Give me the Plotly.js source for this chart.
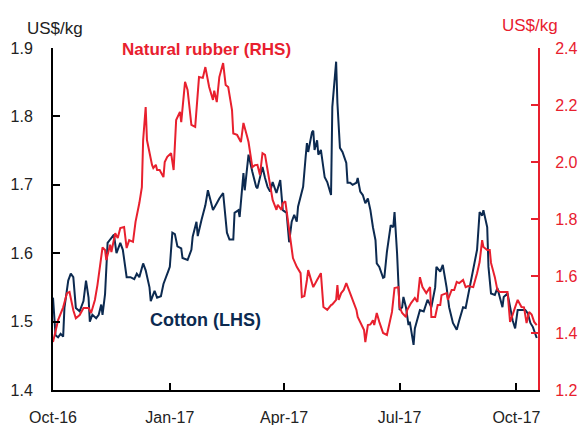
<!DOCTYPE html>
<html>
<head>
<meta charset="utf-8">
<script src="https://cdn.plot.ly/plotly-3.0.1.min.js"></script>
<style>html,body{margin:0;padding:0;background:#fff;}#chart{width:579px;height:425px;}</style>
</head>
<body>
<div id="chart"></div>
<script>
var tickDates = ['2016-10-01','2017-01-01','2017-04-01','2017-07-01','2017-10-01'];
var tickLabels = ['Oct-16','Jan-17','Apr-17','Jul-17','Oct-17'];

var cottonDates = ['2016-10-01','2016-10-03','2016-10-05','2016-10-07','2016-10-09','2016-10-10','2016-10-13','2016-10-15','2016-10-17','2016-10-19','2016-10-22','2016-10-25','2016-10-27','2016-10-29','2016-10-30','2016-11-01','2016-11-04','2016-11-06','2016-11-08','2016-11-09','2016-11-11','2016-11-13','2016-11-15','2016-11-18','2016-11-20','2016-11-23','2016-11-25','2016-11-28','2016-12-01','2016-12-04','2016-12-06','2016-12-08','2016-12-11','2016-12-13','2016-12-16','2016-12-17','2016-12-20','2016-12-22','2016-12-25','2016-12-27','2016-12-31','2017-01-01','2017-01-03','2017-01-05','2017-01-07','2017-01-10','2017-01-11','2017-01-15','2017-01-18','2017-01-19','2017-01-22','2017-01-23','2017-01-26','2017-01-29','2017-01-31','2017-02-04','2017-02-07','2017-02-09','2017-02-12','2017-02-15','2017-02-17','2017-02-20','2017-02-21','2017-02-24','2017-02-25','2017-02-28','2017-03-01','2017-03-04','2017-03-07','2017-03-10','2017-03-11','2017-03-15','2017-03-17','2017-03-19','2017-03-21','2017-03-23','2017-03-26','2017-03-29','2017-03-31','2017-04-03','2017-04-05','2017-04-07','2017-04-09','2017-04-11','2017-04-12','2017-04-15','2017-04-16','2017-04-18','2017-04-19','2017-04-20','2017-04-23','2017-04-24','2017-04-25','2017-04-27','2017-04-28','2017-04-30','2017-05-01','2017-05-03','2017-05-05','2017-05-08','2017-05-09','2017-05-12','2017-05-13','2017-05-15','2017-05-17','2017-05-20','2017-05-21','2017-05-23','2017-05-25','2017-05-28','2017-05-29','2017-05-31','2017-06-02','2017-06-04','2017-06-06','2017-06-08','2017-06-10','2017-06-12','2017-06-13','2017-06-15','2017-06-18','2017-06-19','2017-06-21','2017-06-23','2017-06-24','2017-06-26','2017-06-27','2017-06-29','2017-06-30','2017-07-01','2017-07-03','2017-07-04','2017-07-06','2017-07-08','2017-07-09','2017-07-12','2017-07-13','2017-07-15','2017-07-17','2017-07-20','2017-07-23','2017-07-25','2017-07-26','2017-07-29','2017-07-30','2017-08-02','2017-08-04','2017-08-07','2017-08-09','2017-08-12','2017-08-15','2017-08-17','2017-08-20','2017-08-22','2017-08-25','2017-08-28','2017-08-31','2017-09-02','2017-09-04','2017-09-05','2017-09-08','2017-09-09','2017-09-11','2017-09-14','2017-09-16','2017-09-20','2017-09-21','2017-09-24','2017-09-26','2017-09-28','2017-09-30','2017-10-02','2017-10-05','2017-10-08','2017-10-10','2017-10-12','2017-10-14','2017-10-17'];
var cottonValues = [1.535,1.48,1.477,1.482,1.478,1.52,1.56,1.57,1.565,1.52,1.515,1.53,1.56,1.535,1.50,1.51,1.505,1.51,1.525,1.51,1.54,1.615,1.62,1.627,1.60,1.615,1.605,1.565,1.565,1.562,1.57,1.565,1.585,1.575,1.55,1.53,1.545,1.535,1.537,1.555,1.575,1.58,1.63,1.628,1.61,1.607,1.593,1.59,1.605,1.624,1.646,1.625,1.649,1.67,1.692,1.663,1.673,1.68,1.688,1.63,1.62,1.62,1.659,1.663,1.653,1.717,1.692,1.744,1.719,1.697,1.695,1.726,1.71,1.697,1.69,1.704,1.688,1.707,1.663,1.659,1.616,1.646,1.656,1.646,1.668,1.69,1.697,1.741,1.761,1.748,1.777,1.779,1.751,1.765,1.744,1.751,1.736,1.711,1.704,1.685,1.814,1.88,1.82,1.754,1.748,1.732,1.703,1.703,1.70,1.703,1.71,1.69,1.685,1.673,1.68,1.663,1.638,1.619,1.585,1.58,1.564,1.565,1.602,1.624,1.641,1.638,1.66,1.60,1.55,1.517,1.521,1.536,1.521,1.495,1.50,1.466,1.49,1.505,1.517,1.515,1.532,1.525,1.521,1.55,1.58,1.573,1.583,1.55,1.521,1.498,1.488,1.502,1.521,1.52,1.55,1.575,1.605,1.66,1.655,1.663,1.638,1.58,1.541,1.539,1.549,1.521,1.536,1.541,1.521,1.502,1.49,1.517,1.517,1.517,1.512,1.498,1.492,1.476];

var rubberDates = ['2016-10-01','2016-10-03','2016-10-05','2016-10-09','2016-10-12','2016-10-14','2016-10-17','2016-10-19','2016-10-22','2016-10-25','2016-10-29','2016-10-31','2016-11-03','2016-11-05','2016-11-09','2016-11-11','2016-11-12','2016-11-15','2016-11-16','2016-11-19','2016-11-21','2016-11-23','2016-11-26','2016-11-28','2016-11-30','2016-12-03','2016-12-05','2016-12-08','2016-12-10','2016-12-11','2016-12-13','2016-12-14','2016-12-16','2016-12-18','2016-12-19','2016-12-21','2016-12-22','2016-12-24','2016-12-27','2016-12-28','2016-12-30','2017-01-02','2017-01-04','2017-01-06','2017-01-09','2017-01-10','2017-01-13','2017-01-15','2017-01-18','2017-01-21','2017-01-24','2017-01-27','2017-01-29','2017-01-31','2017-02-01','2017-02-04','2017-02-05','2017-02-07','2017-02-09','2017-02-12','2017-02-14','2017-02-16','2017-02-19','2017-02-20','2017-02-23','2017-02-26','2017-02-28','2017-03-03','2017-03-04','2017-03-07','2017-03-09','2017-03-11','2017-03-13','2017-03-15','2017-03-17','2017-03-19','2017-03-21','2017-03-23','2017-03-26','2017-03-27','2017-03-30','2017-03-31','2017-04-02','2017-04-04','2017-04-06','2017-04-08','2017-04-11','2017-04-13','2017-04-14','2017-04-15','2017-04-17','2017-04-19','2017-04-20','2017-04-22','2017-04-24','2017-04-27','2017-04-30','2017-05-02','2017-05-05','2017-05-08','2017-05-09','2017-05-12','2017-05-13','2017-05-14','2017-05-16','2017-05-18','2017-05-20','2017-05-23','2017-05-25','2017-05-28','2017-05-29','2017-06-01','2017-06-03','2017-06-04','2017-06-06','2017-06-08','2017-06-10','2017-06-11','2017-06-13','2017-06-15','2017-06-18','2017-06-21','2017-06-23','2017-06-25','2017-06-27','2017-06-30','2017-07-01','2017-07-03','2017-07-06','2017-07-07','2017-07-10','2017-07-13','2017-07-15','2017-07-17','2017-07-19','2017-07-22','2017-07-25','2017-07-26','2017-07-29','2017-07-31','2017-08-02','2017-08-03','2017-08-07','2017-08-08','2017-08-11','2017-08-13','2017-08-15','2017-08-17','2017-08-20','2017-08-22','2017-08-24','2017-08-28','2017-08-31','2017-09-02','2017-09-04','2017-09-05','2017-09-08','2017-09-10','2017-09-11','2017-09-14','2017-09-16','2017-09-18','2017-09-21','2017-09-24','2017-09-26','2017-09-27','2017-09-30','2017-10-02','2017-10-05','2017-10-07','2017-10-09','2017-10-11','2017-10-13','2017-10-15','2017-10-17'];
var rubberValues = [1.368,1.41,1.445,1.49,1.54,1.544,1.48,1.452,1.463,1.488,1.488,1.47,1.516,1.568,1.70,1.691,1.656,1.71,1.684,1.75,1.733,1.768,1.772,1.698,1.726,1.72,1.79,1.856,1.912,2.077,2.193,2.077,2.031,1.99,1.979,1.99,1.972,1.972,1.947,2.0,2.018,2.031,1.972,2.147,2.176,2.14,2.281,2.253,2.13,2.123,2.298,2.295,2.333,2.288,2.263,2.218,2.25,2.21,2.298,2.347,2.27,2.263,2.182,2.10,2.095,2.07,2.137,2.088,2.07,1.982,1.989,1.99,1.954,2.031,2.025,1.972,1.912,1.867,1.832,1.85,1.832,1.855,1.862,1.79,1.716,1.663,1.632,1.62,1.61,1.526,1.53,1.586,1.621,1.59,1.561,1.586,1.61,1.491,1.481,1.498,1.50,1.516,1.568,1.516,1.54,1.551,1.575,1.54,1.516,1.481,1.456,1.428,1.41,1.368,1.428,1.43,1.445,1.428,1.47,1.439,1.40,1.393,1.439,1.474,1.558,1.561,1.491,1.47,1.456,1.481,1.505,1.523,1.509,1.596,1.561,1.54,1.561,1.456,1.456,1.498,1.498,1.533,1.54,1.516,1.551,1.551,1.579,1.575,1.586,1.561,1.565,1.561,1.61,1.649,1.726,1.702,1.691,1.691,1.646,1.596,1.551,1.544,1.544,1.544,1.439,1.45,1.491,1.516,1.491,1.49,1.435,1.474,1.465,1.439,1.428];

var navy = '#0c2a50';
var red = '#e8202e';
var font = 'Liberation Sans, Arial, sans-serif';

var traces = [
  {x: cottonDates, y: cottonValues, type: 'scatter', mode: 'lines', name: 'Cotton (LHS)',
   line: {color: navy, width: 2}, yaxis: 'y'},
  {x: rubberDates, y: rubberValues, type: 'scatter', mode: 'lines', name: 'Natural rubber (RHS)',
   line: {color: red, width: 2}, yaxis: 'y2'}
];

var layout = {
  width: 579, height: 425,
  margin: {l: 53, r: 41, t: 48, b: 35, pad: 0},
  paper_bgcolor: '#fff', plot_bgcolor: '#fff',
  showlegend: false,
  font: {family: font, size: 16, color: '#222'},
  xaxis: {
    type: 'date', range: ['2016-10-01', '2017-10-18'],
    tickvals: tickDates, ticktext: tickLabels,
    showgrid: false, zeroline: false,
    showline: true, linecolor: '#000', linewidth: 2,
    ticks: 'inside', ticklen: 7, tickwidth: 2, tickcolor: '#000',
    ticklabelstandoff: 12,
    tickfont: {family: font, size: 16, color: '#222'}
  },
  yaxis: {
    range: [1.4, 1.9], dtick: 0.1, tickformat: '.1f',
    showgrid: false, zeroline: false,
    showline: true, linecolor: '#000', linewidth: 2,
    ticks: 'inside', ticklen: 7, tickwidth: 2, tickcolor: '#000',
    ticklabelstandoff: 15,
    tickfont: {family: font, size: 16, color: '#222'}
  },
  yaxis2: {
    overlaying: 'y', side: 'right',
    range: [1.2, 2.4], dtick: 0.2, tickformat: '.1f',
    showgrid: false, zeroline: false,
    showline: true, linecolor: red, linewidth: 2,
    ticks: 'inside', ticklen: 7, tickwidth: 2, tickcolor: red,
    ticklabelstandoff: 12,
    tickfont: {family: font, size: 16, color: red}
  },
  annotations: [
    {text: 'US$/kg', xref: 'paper', yref: 'paper', x: -0.058, y: 1.0, xanchor: 'left', yanchor: 'bottom',
     yshift: 8, showarrow: false, font: {family: font, size: 17, color: '#222'}},
    {text: 'US$/kg', xref: 'paper', yref: 'paper', x: 0.922, y: 1.0, xanchor: 'left', yanchor: 'bottom',
     yshift: 11, showarrow: false, font: {family: font, size: 17, color: red}},
    {text: '<b>Natural rubber (RHS)</b>', xref: 'x', yref: 'paper', x: '2016-11-23', y: 1.0, xanchor: 'left', yanchor: 'middle',
     yshift: -1, showarrow: false, font: {family: font, size: 17, color: red}},
    {text: '<b>Cotton (LHS)</b>', xref: 'x', yref: 'y', x: '2016-12-15', y: 1.502, xanchor: 'left', yanchor: 'middle',
     showarrow: false, font: {family: font, size: 18, color: navy}}
  ]
};

Plotly.newPlot('chart', traces, layout, {displayModeBar: false, staticPlot: true});
</script>
</body>
</html>
